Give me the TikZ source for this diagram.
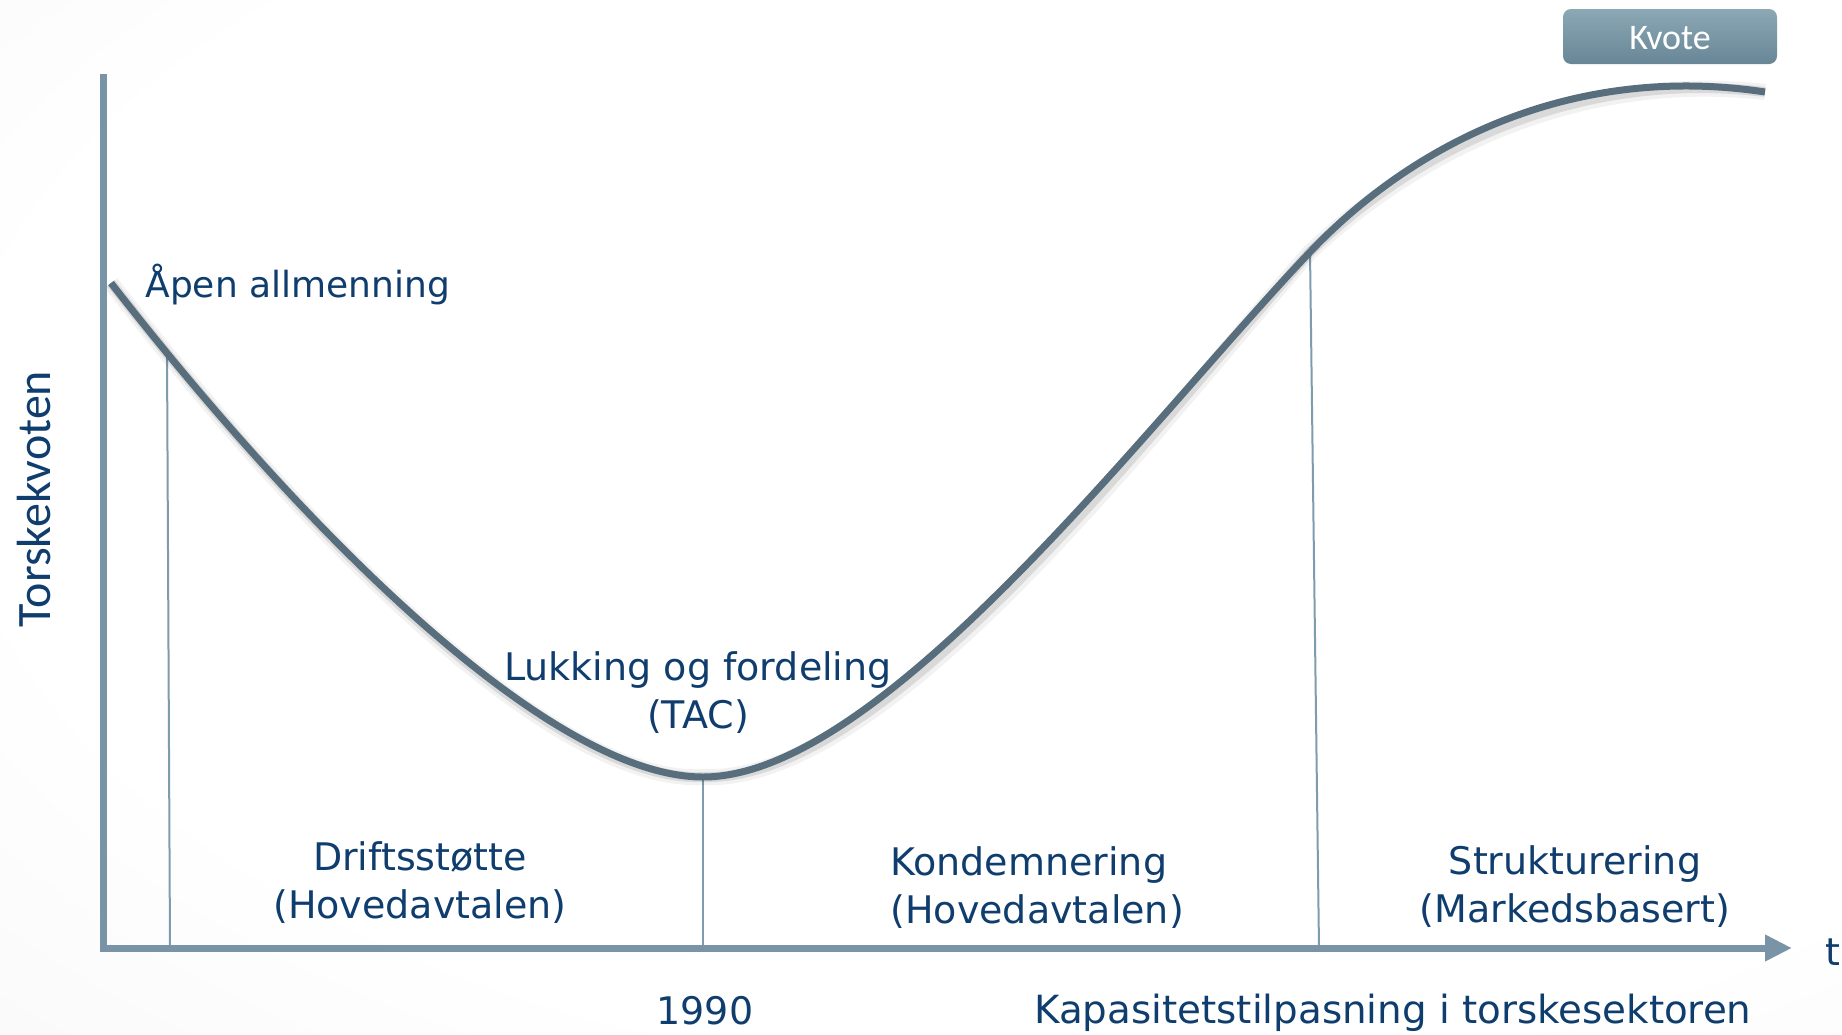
\documentclass[tikz,border=0pt]{standalone}
\usepackage{fontspec}
\setmainfont{DejaVu Sans}
\newfontfamily\calfont{Carlito}
\usetikzlibrary{arrows.meta,shadings}
\definecolor{txtblue}{HTML}{0F3D6E}
\definecolor{axisc}{HTML}{7894A6}
\definecolor{curvec}{HTML}{586E7D}
\definecolor{thinc}{HTML}{7F9CAE}
\definecolor{kvtop}{HTML}{8CA8B5}
\definecolor{kvbot}{HTML}{688696}
\pgfdeclareradialshading{bgshade}{\pgfpoint{8bp}{6bp}}{color(0bp)=(white); color(30bp)=(white); color(75bp)=(black!9)}
\begin{document}
\begin{tikzpicture}[x=0.5pt,y=-0.5pt,
  lbl/.style={text=txtblue,font=\fontsize{19}{24}\selectfont,inner sep=0pt},
  axisline/.style={draw=axisc,line width=3.5pt,line join=miter,-{Triangle[length=13.5pt,width=12.5pt]}},
  curveline/.style={draw=curvec,line width=3.5pt},
  curveshadow/.style={draw=black,line width=5pt,opacity=0.10},
  thinline/.style={draw=thinc,line width=1pt},
  kvote/.style={rounded corners=4pt,top color=kvtop,bottom color=kvbot,draw=none,
    minimum width=107pt,minimum height=27.5pt,text height=13pt,text depth=0pt,
    text=white,font=\calfont\fontsize{18}{20}\selectfont}]
\useasboundingbox (0,0) rectangle (1842,1034);
\shade[shading=bgshade] (0,0) rectangle (1842,1034);

% key points on the curve
\coordinate (S) at (111,283);
\coordinate (c1) at (167,352);
\coordinate (M) at (703,777);
\coordinate (I) at (1310,252);
\coordinate (E) at (1765,92);
\coordinate (b1) at (170,948);
\coordinate (b2) at (703,948);
\coordinate (b3) at (1319,948);

% thin vertical lines
\draw[thinline] (c1) -- (b1);
\draw[thinline] (M) -- (b2);
\draw[thinline] (I) -- (b3);

% curve with soft shadow
\def\curvepath{(S) .. controls (311,540) and (553,777) .. (M) .. controls (883,777) and (1150,420) .. (I) .. controls (1420,136.5) and (1580,64) .. (E)}
\draw[curveshadow,shift={(4,6)}] \curvepath;
\draw[curveshadow,line width=8pt,opacity=0.05,shift={(5,8)}] \curvepath;
\draw[curveline] \curvepath;

% axes
\coordinate (ytop) at (103,74);
\coordinate (orig) at (103,948);
\coordinate (xend) at (1792,948);
\draw[axisline] (ytop) -- (orig) -- (xend);

% labels
\node[lbl,anchor=base west,font=\fontsize{18}{24}\selectfont] (apen) at (145,297) {Åpen allmenning};
\node[lbl,anchor=base] (lukk) at (698,680) {\begin{tabular}[t]{@{}c@{}}Lukking og fordeling\\(TAC)\end{tabular}};
\node[lbl,anchor=base] (drift) at (420,870) {\begin{tabular}[t]{@{}c@{}}Driftsstøtte\\(Hovedavtalen)\end{tabular}};
\node[lbl,anchor=base west] (kond) at (890,875) {\begin{tabular}[t]{@{}l@{}}Kondemnering\\(Hovedavtalen)\end{tabular}};
\node[lbl,anchor=base] (strukt) at (1575,874) {\begin{tabular}[t]{@{}c@{}}Strukturering\\(Markedsbasert)\end{tabular}};
\node[lbl,anchor=base] (year) at (705,1024) {1990};
\node[lbl,anchor=base west,font=\fontsize{19.4}{24}\selectfont] (kap) at (1034,1023) {Kapasitetstilpasning i torskesektoren};
\node[lbl,anchor=base] (tlab) at (1833,965) {t};
\node[text=txtblue,inner sep=0pt,anchor=base,rotate=90,font=\calfont\fontsize{24}{28}\selectfont] (ylab) at (50,499) {Torskekvoten};

% Kvote box
\node[kvote] (kvote) at (1670,36.5) {Kvote};
\end{tikzpicture}
\end{document}
